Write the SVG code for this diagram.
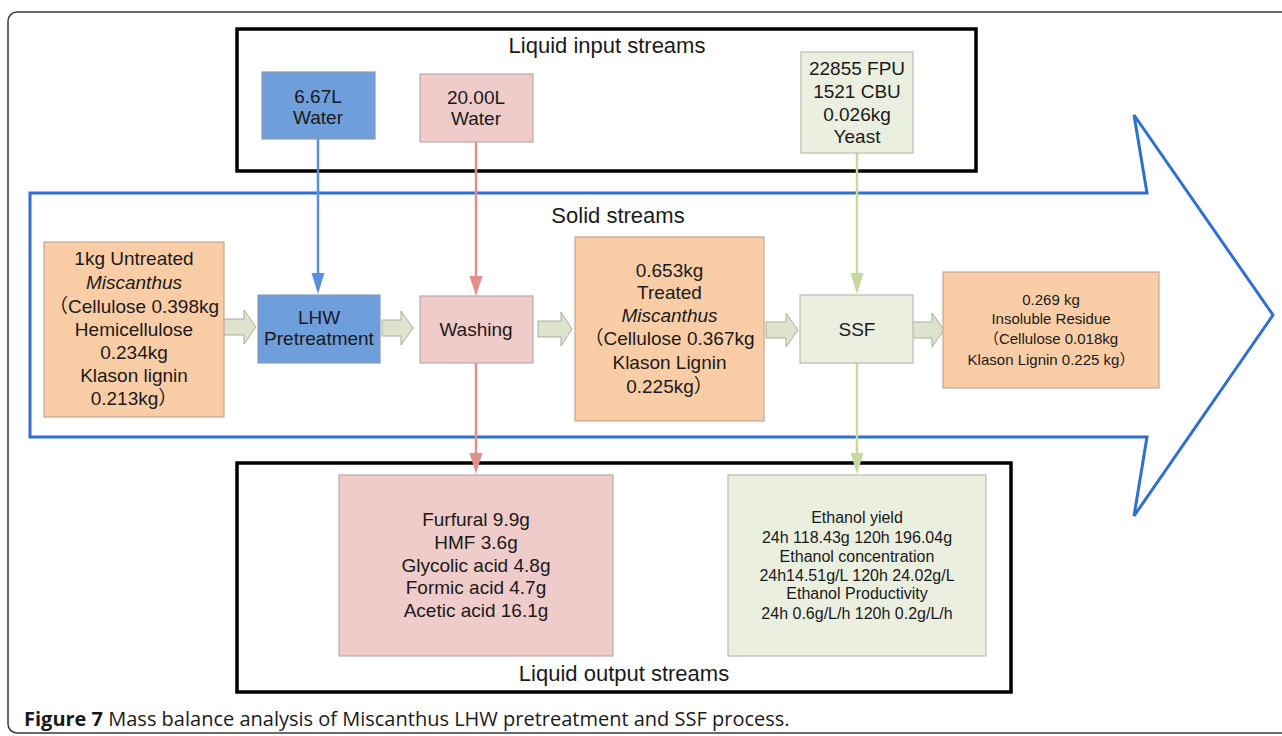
<svg xmlns="http://www.w3.org/2000/svg" width="1282" height="736" viewBox="0 0 1282 736">
<style>
text{font-family:"Liberation Sans",Arial,"Noto Sans CJK SC",sans-serif;fill:#1a1a1a;text-anchor:middle}
.t19{font-size:19px}
.t15{font-size:15px}
.t16{font-size:16px}
.t22{font-size:22px}
.cap{font-family:"Open Sans","Liberation Sans",sans-serif;font-size:20px;text-anchor:start}
.frame{fill:none;stroke:#000;stroke-width:3.5}
.blue{fill:#6e9edb;stroke:#8c9bb0;stroke-width:1.2}
.pink{fill:#efcbca;stroke:#b9aaaa;stroke-width:1.2}
.green{fill:#ebefdf;stroke:#b9bdae;stroke-width:1.2}
.orange{fill:#fbcda6;stroke:#bfa995;stroke-width:1.2}
.sarrow{fill:#dde3cd;stroke:#a9ae9c;stroke-width:1}
</style>
<rect x="8" y="12" width="1290" height="721" rx="9" fill="#fff" stroke="#3a3a3a" stroke-width="1.5"/>

<g id="input-box">
<rect class="frame" x="237" y="29" width="739" height="142"/>
<text class="t22" x="607" y="53">Liquid input streams</text>
</g>

<g id="solid-arrow">
<path d="M30,193 H1147 L1134,115 L1273,315 L1134,516 L1147,437 H30 Z" fill="none" stroke="#2f6fcf" stroke-width="3"/>
<text class="t22" x="618" y="223">Solid streams</text>
</g>

<g id="output-box">
<rect class="frame" x="237" y="463" width="774" height="229"/>
<text class="t22" x="624" y="681">Liquid output streams</text>
</g>

<g id="connectors">
<line x1="318" y1="139" x2="318" y2="275" stroke="#5b8fda" stroke-width="2.5"/>
<polygon points="311.5,273 324.5,273 318,294" fill="#5b8fda"/>
<line x1="476" y1="142" x2="476" y2="278" stroke="#e08f8b" stroke-width="2.5"/>
<polygon points="469.5,276 482.5,276 476,296" fill="#e08f8b"/>
<line x1="476" y1="363" x2="476" y2="455" stroke="#e08f8b" stroke-width="2.5"/>
<polygon points="469.5,453 482.5,453 476,474" fill="#e08f8b"/>
<line x1="857" y1="153" x2="857" y2="275" stroke="#c5d9a3" stroke-width="2.5"/>
<polygon points="850.5,273 863.5,273 857,294" fill="#c5d9a3"/>
<line x1="857" y1="363" x2="857" y2="455" stroke="#c5d9a3" stroke-width="2.5"/>
<polygon points="850.5,453 863.5,453 857,474" fill="#c5d9a3"/>
<path class="sarrow" d="M222,319 H244 V310 L256,327 L244,344 V335 H222 Z"/>
<path class="sarrow" d="M382,320 H401 V311 L413,328 L401,345 V336 H382 Z"/>
<path class="sarrow" d="M538,321 H561 V312 L572,329 L561,346 V337 H538 Z"/>
<path class="sarrow" d="M766,322 H786 V313 L798,330 L786,347 V338 H766 Z"/>
<path class="sarrow" d="M911,322 H932 V313 L944,330 L932,347 V338 H911 Z"/>
</g>

<g id="water-lhw">
<rect class="blue" x="262" y="72" width="113" height="67"/>
<text class="t19" x="318" y="103">6.67L</text>
<text class="t19" x="318" y="124">Water</text>
</g>

<g id="water-washing">
<rect class="pink" x="420" y="74" width="113" height="68"/>
<text class="t19" x="476" y="104">20.00L</text>
<text class="t19" x="476" y="125">Water</text>
</g>

<g id="enzyme-yeast">
<rect class="green" x="801" y="52" width="112" height="101"/>
<text class="t19" x="857" y="75">22855 FPU</text>
<text class="t19" x="857" y="98">1521 CBU</text>
<text class="t19" x="857" y="121">0.026kg</text>
<text class="t19" x="857" y="143">Yeast</text>
</g>

<g id="untreated">
<rect class="orange" x="44" y="242" width="180" height="175"/>
<text class="t19" x="134" y="265">1kg Untreated</text>
<text class="t19" x="134" y="289" font-style="italic">Miscanthus</text>
<text class="t19" x="134" y="313">（Cellulose 0.398kg</text>
<text class="t19" x="134" y="336">Hemicellulose</text>
<text class="t19" x="134" y="359">0.234kg</text>
<text class="t19" x="134" y="382">Klason lignin</text>
<text class="t19" x="134" y="405">0.213kg）</text>
</g>

<g id="lhw">
<rect class="blue" x="258" y="295" width="122" height="68"/>
<text class="t19" x="319" y="324">LHW</text>
<text class="t19" x="319" y="345">Pretreatment</text>
</g>

<g id="washing">
<rect class="pink" x="420" y="296" width="113" height="67"/>
<text class="t19" x="476" y="336">Washing</text>
</g>

<g id="treated">
<rect class="orange" x="575" y="237" width="189" height="184"/>
<text class="t19" x="669.5" y="277">0.653kg</text>
<text class="t19" x="669.5" y="299">Treated</text>
<text class="t19" x="669.5" y="322" font-style="italic">Miscanthus</text>
<text class="t19" x="669.5" y="345">（Cellulose 0.367kg</text>
<text class="t19" x="669.5" y="369">Klason Lignin</text>
<text class="t19" x="669.5" y="393">0.225kg）</text>
</g>

<g id="ssf">
<rect class="green" x="800" y="295" width="113" height="68"/>
<text class="t19" x="857" y="336">SSF</text>
</g>

<g id="residue">
<rect class="orange" x="943" y="272" width="216" height="116"/>
<text class="t15" x="1051" y="305">0.269 kg</text>
<text class="t15" x="1051" y="324">Insoluble Residue</text>
<text class="t15" x="1051" y="344">（Cellulose 0.018kg</text>
<text class="t15" x="1051" y="365">Klason Lignin 0.225 kg）</text>
</g>

<g id="byproducts">
<rect class="pink" x="339" y="475" width="274" height="181"/>
<text class="t19" x="476" y="526">Furfural 9.9g</text>
<text class="t19" x="476" y="549">HMF 3.6g</text>
<text class="t19" x="476" y="572">Glycolic acid 4.8g</text>
<text class="t19" x="476" y="594">Formic acid 4.7g</text>
<text class="t19" x="476" y="617">Acetic acid 16.1g</text>
</g>

<g id="ethanol">
<rect class="green" x="728" y="475" width="258" height="181"/>
<text class="t16" x="857" y="523">Ethanol yield</text>
<text class="t16" x="857" y="543">24h 118.43g 120h 196.04g</text>
<text class="t16" x="857" y="562">Ethanol concentration</text>
<text class="t16" x="857" y="581">24h14.51g/L 120h 24.02g/L</text>
<text class="t16" x="857" y="599">Ethanol Productivity</text>
<text class="t16" x="857" y="619">24h 0.6g/L/h 120h 0.2g/L/h</text>
</g>

<text class="cap" x="24" y="726"><tspan font-weight="bold">Figure 7</tspan> Mass balance analysis of Miscanthus LHW pretreatment and SSF process.</text>
</svg>
